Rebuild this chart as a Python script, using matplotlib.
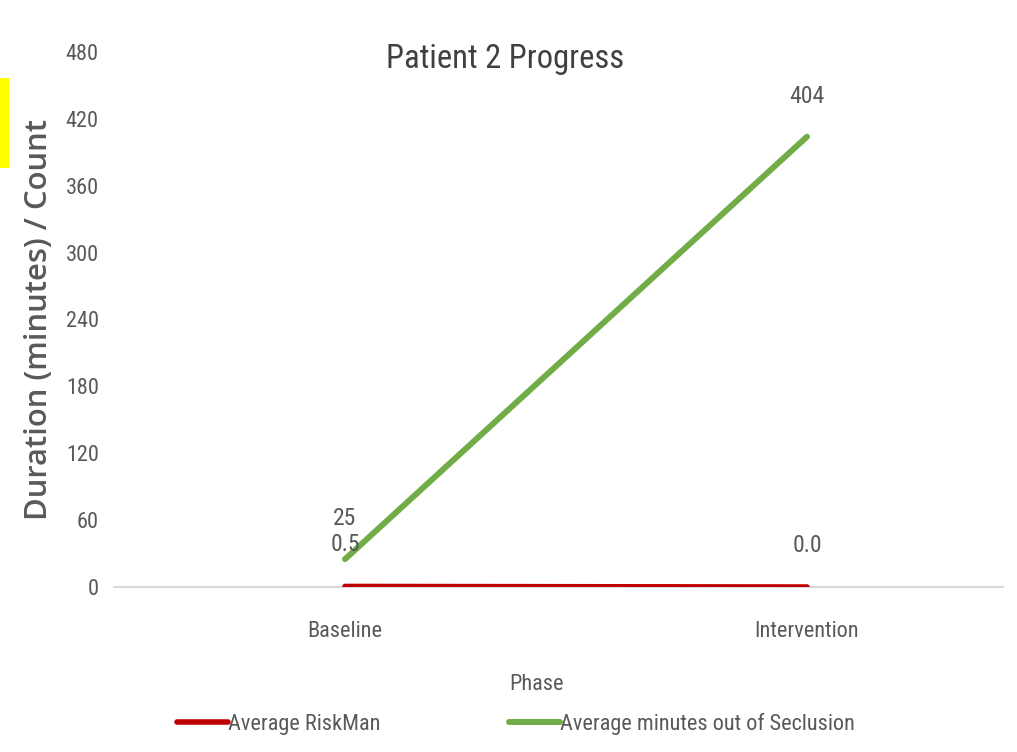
import matplotlib.pyplot as plt
from matplotlib.patches import Rectangle

phases = ['Baseline', 'Intervention']
riskman = [0.5, 0.0]
seclusion = [25, 404]
riskman_labels = ['0.5', '0.0']
seclusion_labels = ['25', '404']
yticks = [0, 60, 120, 180, 240, 300, 360, 420, 480]

txt = '#595959'
narrow = ['Roboto Condensed', 'Roboto', 'DejaVu Sans']
fs = 16

fig = plt.figure(figsize=(10.17, 7.52), dpi=100)
ax = fig.add_axes([0.1121, 0.2194, 0.8740, 0.7115])

x = list(range(len(phases)))
ax.plot(x, riskman, color='#C00000', lw=4.0, solid_capstyle='round', label='Average RiskMan', zorder=3)
ax.plot(x, seclusion, color='#70AD47', lw=4.3, solid_capstyle='round',
        label='Average minutes out of Seclusion', zorder=3)

# data labels above each point
for xi, v, s in zip(x, riskman, riskman_labels):
    ax.annotate(s, (xi, v), xytext=(0, 30), textcoords='offset points', ha='center', va='center',
                fontsize=17, color=txt, family=narrow)
for xi, v, s in zip(x, seclusion, seclusion_labels):
    ax.annotate(s, (xi, v), xytext=(0, 29), textcoords='offset points', ha='center', va='center',
                fontsize=17, color=txt, family=narrow)

ax.set_xlim(-0.5, 1.424)
ax.set_ylim(0, 480)
ax.set_yticks(yticks)
ax.set_xticks(x)
ax.set_xticklabels(phases)
for lab in ax.get_xticklabels() + ax.get_yticklabels():
    lab.set_family(narrow)
    lab.set_fontsize(fs)
    lab.set_color(txt)
ax.tick_params(axis='y', length=0, pad=11)
ax.tick_params(axis='x', length=0, pad=24.5)

for s in ['top', 'right', 'left']:
    ax.spines[s].set_visible(False)
ax.spines['bottom'].set_color('#D9D9D9')
ax.spines['bottom'].set_linewidth(1.5)

ax.set_xlabel('Phase', fontsize=fs, color=txt, family=narrow)
ax.xaxis.set_label_coords(0.475, -0.163)
ax.set_ylabel('Duration (minutes) / Count', fontsize=22.3, color=txt, family='Open Sans',
              fontweight='semibold')
ax.yaxis.set_label_coords(-0.068, 0.5)

fig.text(0.497, 0.922, 'Patient 2 Progress', ha='center', va='center', fontsize=23.5,
         color='#404040', family=narrow)

fig.legend(loc='center', bbox_to_anchor=(0.5075, 0.037), ncol=2, frameon=False,
           prop={'family': narrow, 'size': fs}, labelcolor=txt,
           handlelength=2.3, handletextpad=0.0, columnspacing=5.8)

fig.patches.append(Rectangle((0, 1 - 168 / 752), 9 / 1017, 90 / 752, transform=fig.transFigure,
                             facecolor='#FFFF00', edgecolor='none'))

fig.savefig('out.png', dpi=100)
